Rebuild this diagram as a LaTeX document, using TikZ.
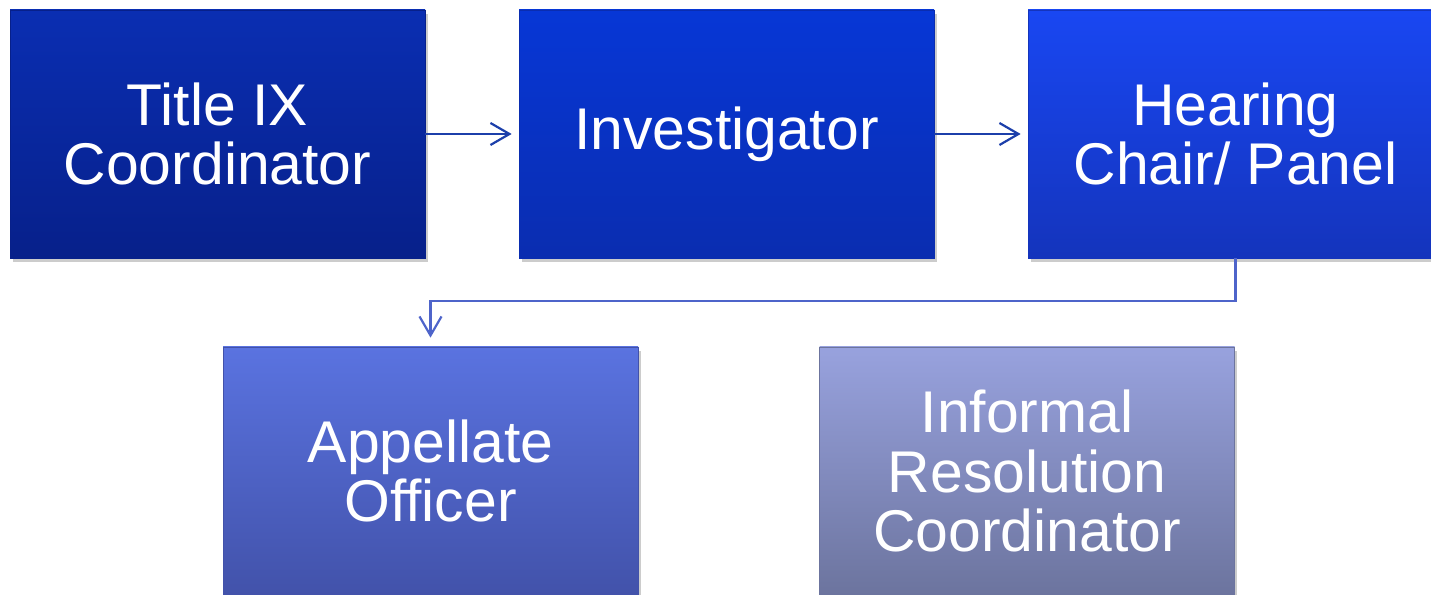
\documentclass[tikz,border=0pt]{standalone}
\usepackage{fontspec}
\setmainfont{Liberation Sans}
\usetikzlibrary{arrows.meta,shadows}
\definecolor{tixtop}{HTML}{0A2EB2}
\definecolor{tixbot}{HTML}{07208A}
\definecolor{invtop}{HTML}{0737D6}
\definecolor{invbot}{HTML}{0A2DB0}
\definecolor{heartop}{HTML}{1947F2}
\definecolor{hearbot}{HTML}{1434BC}
\definecolor{apptop}{HTML}{5A73E0}
\definecolor{appbot}{HTML}{4252AA}
\definecolor{inftop}{HTML}{98A2DE}
\definecolor{infbot}{HTML}{6C749E}
\definecolor{flowdark}{HTML}{1C3FAA}
\definecolor{flowlight}{HTML}{4E64CA}
\begin{document}
\begin{tikzpicture}[node distance=10.18cm]
	\useasboundingbox (0,0) rectangle (28.62,-11.9);
	\tikzstyle{role}=[rectangle, minimum width=8.3cm, minimum height=4.96cm, inner sep=0pt, align=center, text=white, font=\fontsize{33.5}{34}\selectfont, drop shadow={opacity=0.4, shadow xshift=0.05cm, shadow yshift=-0.08cm}]
	\tikzstyle{flow}=[-{Straight Barb[length=0.38cm,width=0.44cm]}, line width=1.25pt]
	\node[role, top color=tixtop, bottom color=tixbot, draw=tixbot] 			(tix) at (4.35,-2.68) {Title IX\\Coordinator};
	\node[role, top color=invtop, bottom color=invbot, draw=invbot, right of=tix] 	(inv) {Investigator};
	\node[role, top color=heartop, bottom color=hearbot, draw=hearbot, right of=inv] (hear) {Hearing\\Chair/ Panel};
	
	\node[role, top color=apptop, bottom color=appbot, draw=appbot] (app) at (8.61,-9.42) {Appellate\\Officer};
	\node[role, top color=inftop, bottom color=infbot, draw=infbot] (inf) at (20.54,-9.42) {Informal\\Resolution\\Coordinator};
	\begin{scope}[flow]
		\draw[flowdark, shorten >=0.14cm]	(tix) -- (inv);
		\draw[flowdark, shorten >=0.14cm]	(inv) -- (hear);
		\draw[flowlight, shorten >=0.18cm]	(hear.south) -- ++(0,-0.86) -| (app.north);
	\end{scope}
\end{tikzpicture}
\end{document}
